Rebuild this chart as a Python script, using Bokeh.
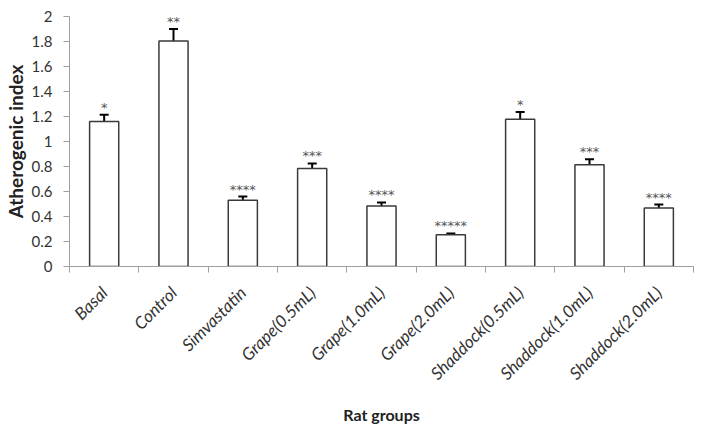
import math
from bokeh.plotting import figure
from bokeh.models import ColumnDataSource, Range1d, FixedTicker, Whisker, TeeHead
from bokeh.core.properties import value
from bokeh.embed import file_html
from bokeh.resources import INLINE

groups = ["Basal", "Control", "Simvastatin", "Grape(0.5mL)", "Grape(1.0mL)",
          "Grape(2.0mL)", "Shaddock(0.5mL)", "Shaddock(1.0mL)", "Shaddock(2.0mL)"]
means = [1.16, 1.805, 0.53, 0.785, 0.485, 0.255, 1.178, 0.815, 0.468]
errors = [0.055, 0.095, 0.03, 0.04, 0.028, 0.01, 0.058, 0.044, 0.028]
stars = ["*", "**", "****", "***", "****", "*****", "*", "***", "****"]
y_ticks = [0, 0.2, 0.4, 0.6, 0.8, 1.0, 1.2, 1.4, 1.6, 1.8, 2.0]
y_tick_labels = ["0", "0.2", "0.4", "0.6", "0.8", "1", "1.2", "1.4", "1.6", "1.8", "2"]

FONT = "Lato"

xs = [i + 0.5 for i in range(len(groups))]
src = ColumnDataSource(dict(
    x=xs, top=means,
    upper=[m + e for m, e in zip(means, errors)],
    lower=[m - e for m, e in zip(means, errors)],
    stars=stars,
))

p = figure(width=703, height=431, output_backend="svg", toolbar_location=None,
           x_range=Range1d(0, len(groups)), y_range=Range1d(0, 2),
           min_border_left=68, min_border_right=10, min_border_top=16, min_border_bottom=165)
p.outline_line_color = None
p.xgrid.grid_line_color = None
p.ygrid.grid_line_color = None

p.vbar(x="x", top="top", width=0.42, source=src, fill_color="white",
       line_color="#3a3a3a", line_width=1.5)

w = Whisker(base="x", upper="upper", lower="lower", source=src,
            line_color="black", line_width=2,
            upper_head=TeeHead(size=9, line_color="black", line_width=2),
            lower_head=TeeHead(size=9, line_color="black", line_width=2))
p.add_layout(w)

p.text(x="x", y="upper", text="stars", source=src, y_offset=0,
       text_align="center", text_baseline="bottom", text_font=value("DejaVu Sans"),
       text_font_size="13px", text_color="#555555")

# x axis
p.xaxis.ticker = FixedTicker(ticks=xs, minor_ticks=list(range(len(groups) + 1)))
p.xaxis.major_label_overrides = {x: g for x, g in zip(xs, groups)}
p.xaxis.major_tick_out = 0
p.xaxis.major_tick_in = 0
p.xaxis.minor_tick_out = 6
p.xaxis.minor_tick_in = 0
p.xaxis.minor_tick_line_color = "#a0a0a0"
p.xaxis.axis_line_color = "#a0a0a0"
p.xaxis.major_label_orientation = math.pi / 4
p.xaxis.major_label_text_font = FONT
p.xaxis.major_label_text_font_style = "italic"
p.xaxis.major_label_text_font_size = "17px"
p.xaxis.major_label_text_color = "#333333"
p.xaxis.major_label_standoff = 17
p.xaxis.axis_label = "Rat groups"
p.xaxis.axis_label_text_font = FONT
p.xaxis.axis_label_text_font_style = "bold"
p.xaxis.axis_label_text_font_size = "16px"
p.xaxis.axis_label_text_color = "#222222"
p.xaxis.axis_label_standoff = 11

# y axis
p.yaxis.ticker = FixedTicker(ticks=y_ticks, minor_ticks=[])
p.yaxis.major_label_overrides = {t: l for t, l in zip(y_ticks, y_tick_labels)}
p.yaxis.major_tick_out = 6
p.yaxis.major_tick_in = 0
p.yaxis.major_tick_line_color = "#a0a0a0"
p.yaxis.axis_line_color = "#a0a0a0"
p.yaxis.major_label_text_font = FONT
p.yaxis.major_label_text_font_size = "15px"
p.yaxis.major_label_text_color = "#333333"
p.yaxis.major_label_standoff = 11
p.yaxis.axis_label = "Atherogenic index"
p.yaxis.axis_label_text_font = FONT
p.yaxis.axis_label_text_font_style = "bold"
p.yaxis.axis_label_text_font_size = "19px"
p.yaxis.axis_label_text_color = "#222222"
p.yaxis.axis_label_standoff = 2

open("out.html", "w").write(file_html(p, INLINE))
